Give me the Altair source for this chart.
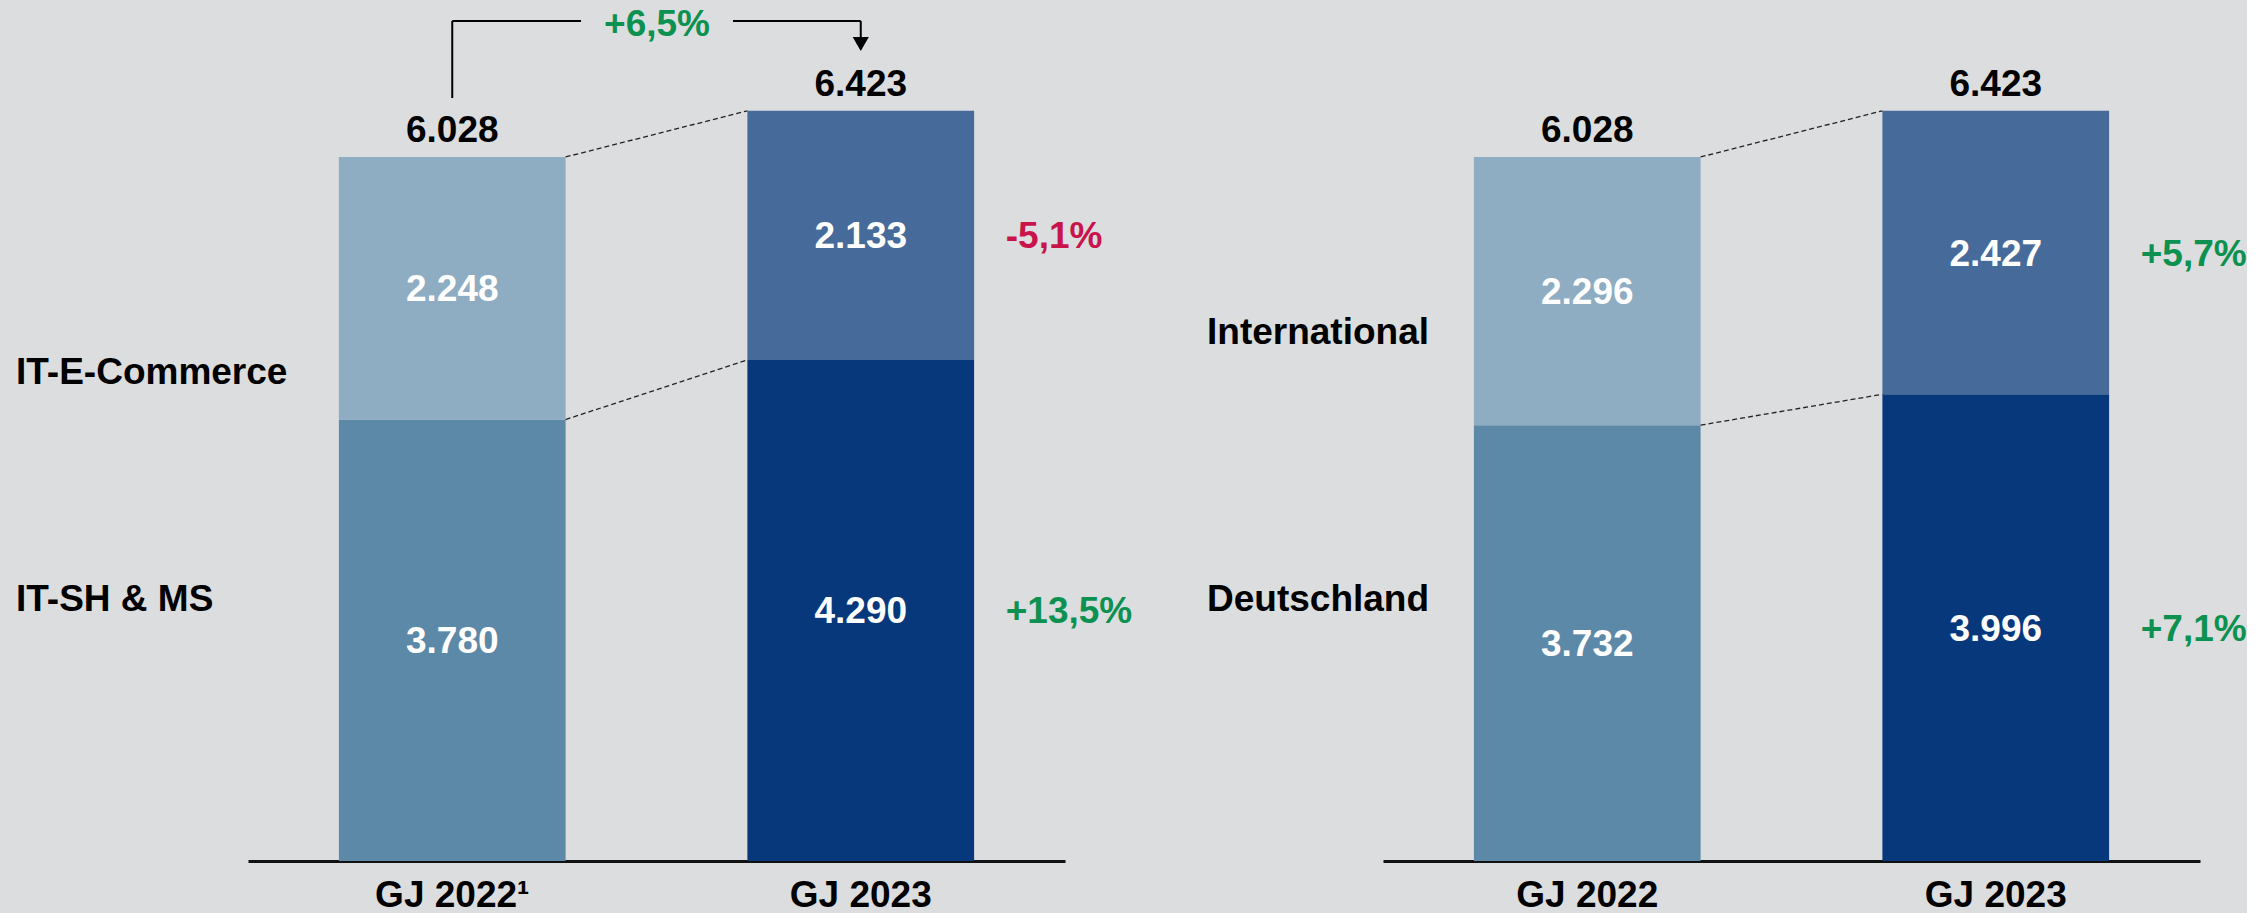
import altair as alt
import pandas as pd

BG = "#DCDDDF"
FONT = "Liberation Sans, Arial, Helvetica, sans-serif"
GREEN = "#0C9150"
RED = "#C8144B"
FS = 37

# ---- data ----
years_left = ["GJ 2022¹", "GJ 2023"]
years_right = ["GJ 2022", "GJ 2023"]
segments_left = ["IT-SH & MS", "IT-E-Commerce"]
segments_right = ["Deutschland", "International"]
bottom_left = [3780, 4290]
top_left = [2248, 2133]
bottom_right = [3732, 3996]
top_right = [2296, 2427]
change_left = ["+13,5%", "-5,1%"]      # bottom segment, top segment
change_right = ["+7,1%", "+5,7%"]
total_change = "+6,5%"

BAR_COLORS = ["#5D89A9", "#8EACC2", "#08387C", "#466A99"]  # 2022 bottom, 2022 top, 2023 bottom, 2023 top

YMAX = 7372
PANEL_W = 817
PANEL_H = 861


def fmt(v):
    return f"{v:,}".replace(",", ".")


def panel(years, segs, bottom, top, changes, label_x, label_py, arrow):
    rows = []
    for i, yr in enumerate(years):
        for j, v in enumerate([bottom[i], top[i]]):
            y0 = 0 if j == 0 else bottom[i]
            rows.append(dict(year=yr, value=v, y0=y0, y1=y0 + v, mid=y0 + v / 2,
                             key=f"{i}{j}", label=fmt(v)))
    df = pd.DataFrame(rows)

    xscale = alt.Scale(domain=years, paddingInner=0.445, paddingOuter=0.2225)
    xaxis = alt.Axis(title=None, labelAngle=0, ticks=False, labelPadding=16,
                     labelFontSize=FS, labelFontWeight="bold", labelColor="#000000",
                     labelFont=FONT, domainColor="#111111", domainWidth=3, grid=False)
    yscale = alt.Scale(domain=[0, YMAX], nice=False, zero=True)

    def X(field, bp=None):
        if bp is None:
            return alt.X(f"{field}:N", scale=xscale, axis=xaxis)
        return alt.X(f"{field}:N", scale=xscale, axis=xaxis, bandPosition=bp)

    bars = alt.Chart(df).mark_bar().encode(
        x=X("year"),
        y=alt.Y("y0:Q", scale=yscale, axis=None),
        y2="y1:Q",
        color=alt.Color("key:N", scale=alt.Scale(domain=["00", "01", "10", "11"], range=BAR_COLORS), legend=None),
    )

    inner = alt.Chart(df).mark_text(color="white", fontSize=FS, fontWeight="bold", font=FONT,
                                    baseline="middle", dy=2).encode(
        x=X("year"), y=alt.Y("mid:Q", scale=yscale, axis=None), text="label:N")

    tot = pd.DataFrame(dict(year=years, total=[bottom[i] + top[i] for i in range(2)],
                            label=[fmt(bottom[i] + top[i]) for i in range(2)]))
    totals = alt.Chart(tot).mark_text(color="black", fontSize=FS, fontWeight="bold", font=FONT,
                                      baseline="alphabetic", dy=-15).encode(
        x=X("year"), y=alt.Y("total:Q", scale=yscale, axis=None), text="label:N")

    ch = df[df.year == years[1]].copy()
    ch["chg"] = changes
    ch["col"] = [RED if c.startswith("-") else GREEN for c in changes]
    chg = alt.Chart(ch).mark_text(fontSize=FS, fontWeight="bold", font=FONT, align="left",
                                  baseline="middle", dx=145, dy=2).encode(
        x=X("year"), y=alt.Y("mid:Q", scale=yscale, axis=None), text="chg:N",
        color=alt.Color("col:N", scale=None))

    conn = pd.DataFrame(dict(a=[years[0], years[0]], b=[years[1], years[1]],
                             ya=[bottom[0], bottom[0] + top[0]],
                             yb=[bottom[1], bottom[1] + top[1]]))
    dashed = alt.Chart(conn).mark_rule(color="#222222", strokeWidth=1.3, strokeDash=[5, 3]).encode(
        x=X("a", 1), x2=alt.X2("b:N", bandPosition=0),
        y=alt.Y("ya:Q", scale=yscale, axis=None), y2="yb:Q")

    layers = [bars, dashed, inner, totals, chg]

    one = pd.DataFrame(dict(k=[0]))
    for seg, py in zip(segs, label_py):
        layers.append(alt.Chart(one).mark_text(text=seg, fontSize=FS, fontWeight="bold", font=FONT,
                                               align="left", baseline="middle", dy=2, color="black").encode(
            x=alt.value(label_x), y=alt.value(py)))

    if arrow:
        yl = pd.DataFrame(dict(year=[years[0]]))
        yr = pd.DataFrame(dict(year=[years[1]]))
        both = pd.DataFrame(dict(year=years))
        layers.append(alt.Chart(yl).mark_rule(color="black", strokeWidth=2).encode(
            x=X("year", 0.5), y=alt.value(21), y2=alt.value(98)))
        layers.append(alt.Chart(yr).mark_rule(color="black", strokeWidth=2).encode(
            x=X("year", 0.5), y=alt.value(21), y2=alt.value(40)))
        layers.append(alt.Chart(both).mark_line(color="black", strokeWidth=2).encode(
            x=X("year", 0.5), y=alt.value(21)))
        layers.append(alt.Chart(one).mark_rect(color=BG).encode(
            x=alt.value(333), x2=alt.value(485), y=alt.value(6), y2=alt.value(38)))
        layers.append(alt.Chart(one).mark_text(text=total_change, fontSize=FS, fontWeight="bold", font=FONT,
                                               color=GREEN, align="center", baseline="alphabetic").encode(
            x=alt.value(409), y=alt.value(36)))
        layers.append(alt.Chart(yr).mark_point(shape="triangle-down", filled=True, size=260,
                                               color="black", opacity=1).encode(
            x=X("year", 0.5), y=alt.value(44)))

    return alt.layer(*layers).properties(width=PANEL_W, height=PANEL_H)


left = panel(years_left, segments_left, bottom_left, top_left, change_left, -232, [598, 371], True)
right = panel(years_right, segments_right, bottom_right, top_right, change_right, -176, [598, 331], False)

chart = alt.hconcat(left, right, spacing=318, bounds="flush").properties(
    padding={"left": 16, "top": 0, "right": 0, "bottom": 0}
).configure(background=BG, font=FONT).configure_view(strokeWidth=0)

chart.save("out.html", embed_options={"renderer": "svg", "actions": False})
